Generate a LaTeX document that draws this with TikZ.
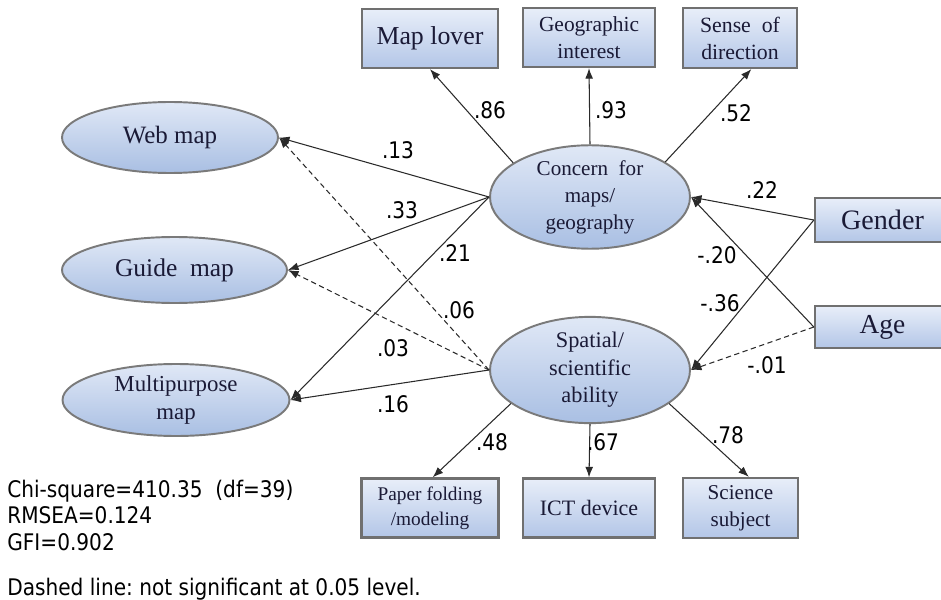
\documentclass[tikz,border=0pt]{standalone}
\usepackage{fontspec}
\setmainfont{Liberation Serif}
\newfontfamily\labfont[FakeStretch=0.88]{DejaVu Sans}
\usetikzlibrary{shapes.geometric,arrows.meta}
\definecolor{boxborder}{HTML}{707070}
\definecolor{boxtop}{HTML}{E8EEF9}
\definecolor{boxbot}{HTML}{B3C6E7}
\definecolor{ellborder}{HTML}{7A7A7A}
\definecolor{elltop}{HTML}{E0E8F6}
\definecolor{ellbot}{HTML}{A9BFE3}
\definecolor{nodetext}{HTML}{1A1A36}
\definecolor{linecol}{HTML}{2A2A2A}
\tikzset{
  box/.style={draw=boxborder, line width=1.3pt, top color=boxtop, bottom color=boxbot,
    inner sep=0pt, align=center, text=nodetext},
  ell/.style={ellipse, draw=ellborder, line width=1.1pt, top color=elltop, bottom color=ellbot,
    inner sep=0pt, align=center, text=nodetext},
  conn/.style={draw=linecol, line width=0.6pt, -{Latex[length=6pt,width=4.5pt]}},
  ns/.style={conn, dash pattern=on 3pt off 2pt},
  lab/.style={font=\labfont\fontsize{13}{15}\selectfont, text=black, inner sep=0pt},
  note/.style={font=\labfont\fontsize{13}{15}\selectfont, text=black, inner sep=0pt, anchor=base west}
}
\begin{document}
\begin{tikzpicture}[x=0.2mm,y=-0.2mm]
\useasboundingbox (0,0) rectangle (941,600);
% indicator boxes
\node[box, minimum width=27.2mm, minimum height=11.8mm, font=\fontsize{14.7}{17}\selectfont] (maplover) at (430,38.5) {Map lover};
\node[box, minimum width=26.4mm, minimum height=11.8mm, font=\fontsize{12.2}{15.3}\selectfont] (geo) at (589,37.5) {Geographic\\interest};
\node[box, minimum width=22.8mm, minimum height=12mm, font=\fontsize{12.4}{15.3}\selectfont] (sense) at (740,38) {Sense\ \ of\\direction};
\node[box, minimum width=27.4mm, minimum height=11.8mm, font=\fontsize{11}{14}\selectfont] (paper) at (430,508) {Paper folding\\/modeling};
\node[box, minimum width=26.4mm, minimum height=11.8mm, font=\fontsize{12.5}{15}\selectfont] (ict) at (589,508) {ICT device};
\node[box, minimum width=23mm, minimum height=12mm, font=\fontsize{12}{15.3}\selectfont] (science) at (740.5,508) {Science\\subject};
\node[box, minimum width=27mm, minimum height=8.8mm, font=\fontsize{16}{18}\selectfont] (gender) at (882.5,220) {Gender};
\node[box, minimum width=27mm, minimum height=8.4mm, font=\fontsize{15.6}{18}\selectfont] (age) at (882.5,327) {Age};
% latent ellipses
\node[ell, minimum width=40mm, minimum height=17.6mm, font=\fontsize{12}{15.3}\selectfont] (concern) at (590,197) {Concern\ \ for\\maps/\\geography};
\node[ell, minimum width=40mm, minimum height=17mm, font=\fontsize{12.7}{15.6}\selectfont] (spatial) at (590,370) {Spatial/\\scientific\\ability};
% outcome ellipses
\node[ell, minimum width=43.2mm, minimum height=14.2mm, font=\fontsize{14.2}{17}\selectfont] (web) at (170,137.5) {Web map};
\node[ell, minimum width=45mm, minimum height=13.2mm, font=\fontsize{14.5}{17}\selectfont] (guide) at (174.5,270) {Guide\ \ map};
\node[ell, minimum width=45.4mm, minimum height=14.4mm, font=\fontsize{13}{16.2}\selectfont] (multi) at (176,400) {Multipurpose\\map};
% connectors: concern
\draw[conn] (concern.156) -- (maplover.south);
\draw[conn] (concern.north) -- (geo.south);
\draw[conn] (concern.25) -- (sense.290);
\draw[conn] (concern.west) -- (web.east);
\draw[conn] (concern.west) -- (guide.east);
\draw[conn] (concern.west) -- (multi.east);
% connectors: spatial
\draw[ns] (spatial.west) -- (web.east);
\draw[ns] (spatial.west) -- (guide.east);
\draw[conn] (spatial.west) -- (multi.east);
\draw[conn] (spatial.203) -- (paper.85);
\draw[conn] (spatial.south) -- (ict.north);
\draw[conn] (spatial.337) -- (science.75);
% connectors: gender / age
\draw[conn] (gender.west) -- (concern.east);
\draw[conn] (age.west) -- (concern.east);
\draw[conn] (gender.west) -- (spatial.east);
\draw[ns] (age.west) -- (spatial.east);
% coefficient labels
\node[lab] (l13) at (398,150) {.13};
\node[lab] (l33) at (402,210) {.33};
\node[lab] (l21) at (455,253) {.21};
\node[lab] (l06) at (459,310) {.06};
\node[lab] (l03) at (393,348) {.03};
\node[lab] (l16) at (393,404) {.16};
\node[lab] (l86) at (490,110) {.86};
\node[lab] (l93) at (611,110) {.93};
\node[lab] (l52) at (736,113) {.52};
\node[lab] (l22) at (762,190) {.22};
\node[lab] (l20) at (717,255) {-.20};
\node[lab] (l36) at (720,303) {-.36};
\node[lab] (l01) at (767,365) {-.01};
\node[lab] (l48) at (492,442) {.48};
\node[lab] (l67) at (603,442) {.67};
\node[lab] (l78) at (728,435) {.78};
% fit statistics and note
\node[note] (chi) at (7,497) {Chi-square=410.35\ \ (df=39)};
\node[note] (rmsea) at (7,523.5) {RMSEA=0.124};
\node[note] (gfi) at (7,550) {GFI=0.902};
\node[note] (dash) at (7,595) {Dashed\ line:\ not\ significant\ at\ 0.05\ level.};
\end{tikzpicture}
\end{document}
